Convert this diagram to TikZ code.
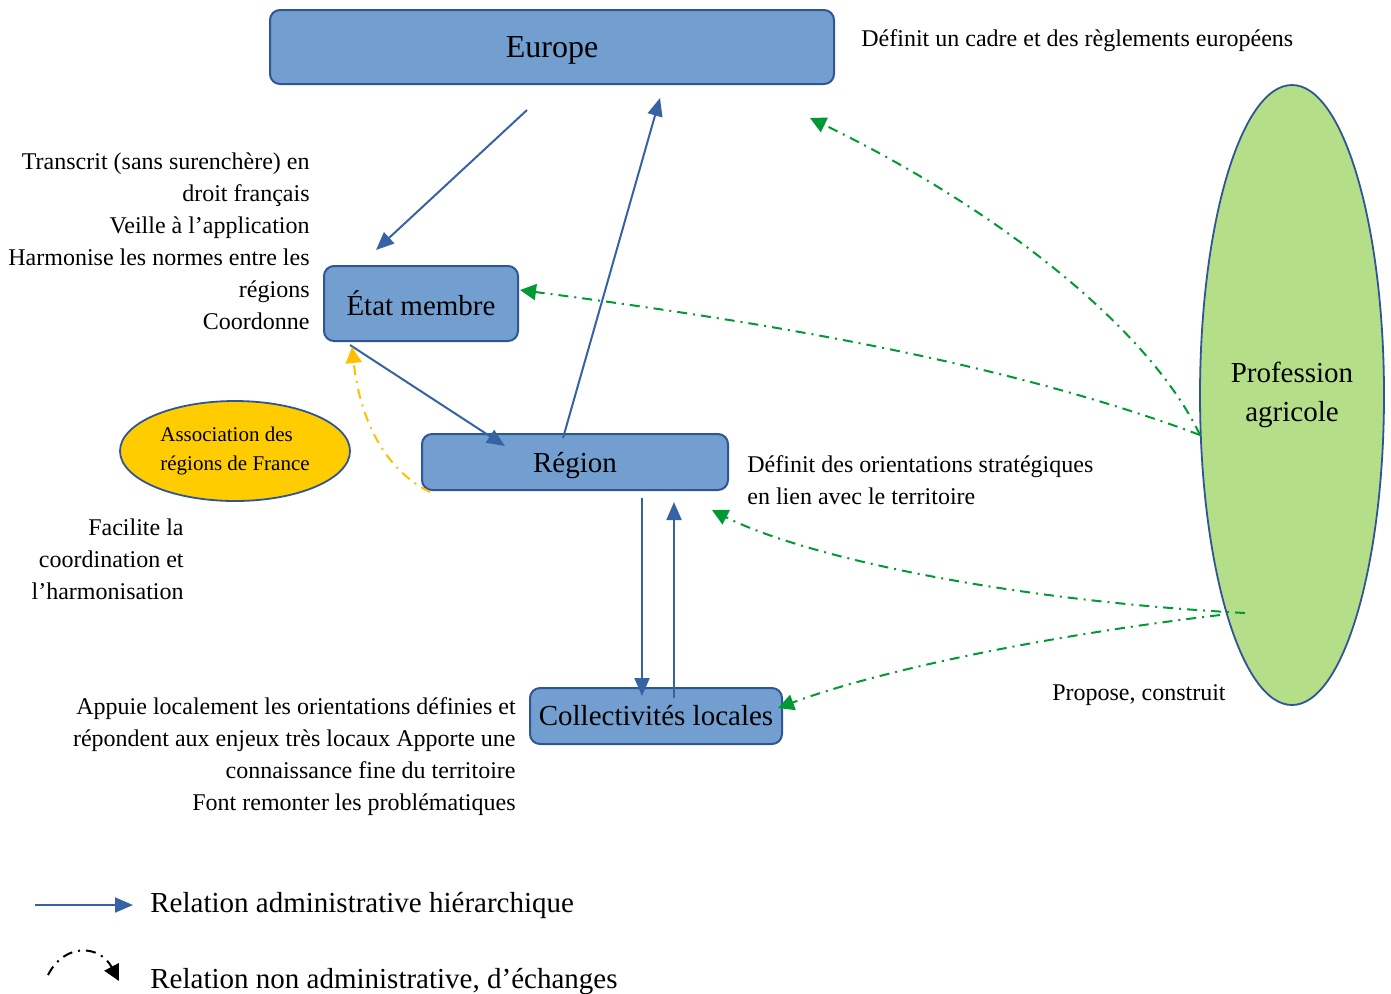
\documentclass[tikz,border=0pt]{standalone}
\usepackage{fontspec}
\setmainfont{Liberation Serif}
\usetikzlibrary{arrows.meta,shapes.geometric}
\definecolor{boxblue}{RGB}{114,159,207}
\definecolor{edgeblue}{RGB}{47,85,151}
\definecolor{arrowblue}{RGB}{54,99,165}
\definecolor{agrigreen}{RGB}{180,223,136}
\definecolor{linkgreen}{RGB}{0,153,51}
\definecolor{assocyellow}{RGB}{255,204,0}
\definecolor{linkyellow}{RGB}{255,192,0}
\begin{document}
\begin{tikzpicture}[
  x=0.5pt, y=-0.5pt,
  % acteurs et liens
  actor/.style={draw=edgeblue, fill=boxblue, line width=1pt, rounded corners=5pt,
    inner sep=2pt, font=\fontsize{14.5}{18}\selectfont},
  blob/.style={ellipse, draw=edgeblue, line width=0.9pt, inner sep=0pt},
  note/.style={inner sep=0pt, font=\fontsize{12}{16}\selectfont},
  legend/.style={inner sep=0pt, font=\fontsize{14.5}{18}\selectfont},
  hier/.style={draw=arrowblue, line width=1pt, -{Triangle[length=9pt,width=7.5pt]}},
  echange/.style={draw=linkgreen, line width=1pt,
    dash pattern=on 5pt off 3pt on 1pt off 3pt, -{Triangle[length=8pt,width=8pt]}}
]
\useasboundingbox (0,0) rectangle (1391,993);

\node[actor, minimum width=282pt, minimum height=37pt, font=\fontsize{16}{18}\selectfont,
  text depth=0pt] (europe) at (552,47) {Europe};
\node[actor, minimum width=97pt, minimum height=37.5pt] (etat) at (421,303.5) {État membre};
\node[actor, minimum width=153pt, minimum height=28pt, text depth=0pt] (region) at (575,462) {Région};
\node[actor, minimum width=126pt, minimum height=28pt] (colloc) at (656,716) {Collectivités locales};
\node[blob, fill=assocyellow, minimum width=115pt, minimum height=50pt, align=left,
  font=\fontsize{10.5}{14.5}\selectfont] (arf) at (235,451) {Association des\\régions de France\hspace{4pt}};
\node[blob, fill=agrigreen, minimum width=92pt, minimum height=310pt, align=center,
  font=\fontsize{14.5}{19.5}\selectfont] (agri) at (1292,395) {Profession\\agricole};

\node[note, anchor=base west] (n-europe) at (861,46) {Définit un cadre et des règlements européens};
\node[note, anchor=east, align=right] (n-etat) at (310,241.5)
  {Transcrit (sans surenchère) en\\droit français\\Veille à l’application\\Harmonise les normes entre les\\régions\\Coordonne};
\node[note, anchor=west, align=left] (n-region) at (747,480)
  {Définit des orientations stratégiques\\en lien avec le territoire};
\node[note, anchor=east, align=right] (n-arf) at (184,559.5)
  {Facilite la\\coordination et\\l’harmonisation};
\node[note, anchor=east, align=right] (n-colloc) at (516,757)
  {Appuie localement les orientations définies et\\répondent aux enjeux très locaux Apporte une\\connaissance fine du territoire\\Font remonter les problématiques};
\node[note, anchor=base east] (n-agri) at (1226,700) {Propose, construit};

% liens hierarchiques
\coordinate (eu-out) at (527,110);  \coordinate (et-in) at (376,250);
\coordinate (re-up) at (563,438);   \coordinate (eu-in) at (660,98);
\coordinate (et-out) at (350,345);  \coordinate (re-in) at (505,446);
\coordinate (re-down) at (642,498); \coordinate (co-in) at (642,696);
\coordinate (co-up) at (674,698);   \coordinate (re-in2) at (674,502);
\draw[hier] (eu-out) -- (et-in);
\draw[hier] (re-up) -- (eu-in);
\draw[hier] (et-out) -- (re-in);
\draw[hier] (re-down) -- (co-in);
\draw[hier] (co-up) -- (re-in2);

% echanges
\coordinate (agri-w) at (1200,435); \coordinate (agri-s) at (1245,613);
\coordinate (agri-s2) at (1220,615);
\coordinate (eu-g) at (810,118);    \coordinate (et-g) at (520,290);
\coordinate (re-g) at (712,510);    \coordinate (co-g) at (778,708);
\coordinate (arf-y) at (430,492);   \coordinate (et-y) at (352,347);
\draw[echange] (agri-w) .. controls (1150,330) and (1000,210) .. (eu-g);
\draw[echange] (agri-w) .. controls (1000,360) and (750,320) .. (et-g);
\draw[echange] (agri-s) .. controls (1000,600) and (800,555) .. (re-g);
\draw[echange] (agri-s2) .. controls (1050,635) and (880,670) .. (co-g);
\draw[echange, draw=linkyellow] (arf-y) .. controls (385,470) and (360,420) .. (et-y);

% legende
\coordinate (lg1a) at (35,905);  \coordinate (lg1b) at (133,905);
\coordinate (lg2a) at (48,975);  \coordinate (lg2b) at (119,981);
\draw[hier] (lg1a) -- (lg1b);
\draw[echange, draw=black] (lg2a) .. controls (65,942) and (100,945) .. (lg2b);
\node[legend, anchor=base west] (lg-hier) at (150,912) {Relation administrative hiérarchique};
\node[legend, anchor=base west] (lg-ech) at (150,988) {Relation non administrative, d’échanges};
\end{tikzpicture}
\end{document}
